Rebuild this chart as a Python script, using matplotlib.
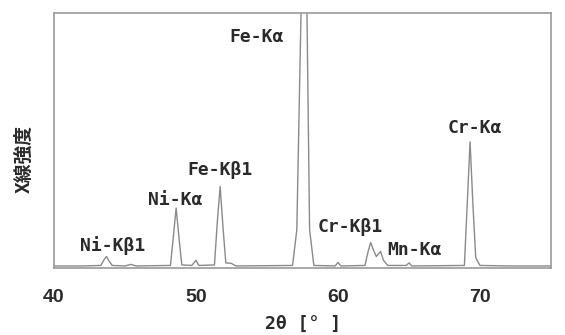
import matplotlib
matplotlib.use("Agg")
import matplotlib.pyplot as plt

plt.rcParams['font.family'] = ['Noto Sans CJK JP', 'DejaVu Sans']

# Spectrum trace: 2θ [°] and relative intensity
two_theta = [40.0, 42.0, 43.3, 43.55, 43.7, 43.85, 44.1, 45.0, 45.4, 45.8, 48.2,
             48.4, 48.6, 48.8, 49.0, 49.7, 50.0, 50.2, 51.3, 51.5, 51.7, 51.9,
             52.1, 52.5, 52.8, 56.8, 57.1, 57.5, 57.75, 58.0, 58.3, 59.8, 60.0,
             60.2, 61.9, 62.1, 62.3, 62.5, 62.7, 62.85, 63.0, 63.2, 63.5, 64.8,
             65.0, 65.2, 68.9, 69.1, 69.3, 69.5, 69.7, 70.0, 72.0, 75.0]
intensity = [0.008, 0.008, 0.010, 0.035, 0.045, 0.030, 0.010, 0.008, 0.014, 0.008, 0.010,
             0.120, 0.235, 0.120, 0.012, 0.010, 0.030, 0.010, 0.012, 0.180, 0.320, 0.160,
             0.020, 0.018, 0.008, 0.010, 0.150, 1.300, 1.300, 0.150, 0.010, 0.008, 0.022,
             0.008, 0.010, 0.060, 0.100, 0.070, 0.045, 0.055, 0.065, 0.030, 0.010, 0.010,
             0.020, 0.008, 0.010, 0.250, 0.495, 0.250, 0.040, 0.010, 0.008, 0.008]

peak_labels = ["Fe-Kα", "Ni-Kβ1", "Ni-Kα", "Fe-Kβ1", "Cr-Kβ1", "Mn-Kα", "Cr-Kα"]
label_x = [54.3, 44.1, 48.5, 51.7, 60.85, 65.35, 69.65]
label_y = [0.906, 0.09, 0.267, 0.384, 0.16, 0.07, 0.549]

x_ticks = [40, 50, 60, 70]

fig = plt.figure(figsize=(5.65, 3.35), dpi=100)
ax = fig.add_axes([54/565, 1-268/335, 497/565, 255/335])

ax.plot(two_theta, intensity, color='#8a8a8a', lw=1.0)
ax.set_xlim(40, 75)
ax.set_ylim(0, 1)

for lab, lx, ly in zip(peak_labels, label_x, label_y):
    ax.text(lx, ly, lab, ha='center', va='center', fontsize=13, fontweight='bold',
            family=['DejaVu Sans Mono'], color='#2a2a2a')

ax.set_xticks(x_ticks)
ax.set_xticklabels([str(t) for t in x_ticks], family=['Liberation Sans'], fontsize=14,
                   fontweight='bold', color='#2a2a2a')
ax.tick_params(axis='x', length=0, pad=15)
ax.set_yticks([])
for s in ax.spines.values():
    s.set_color('#9a9a9a')
    s.set_linewidth(1.2)

fig.text(303/565, 1-324/335, "2θ [° ]", ha='center', va='center', fontsize=13,
         fontweight='bold', family=['DejaVu Sans Mono'], color='#2a2a2a')
fig.text(24/565, 1-159/335, "X線強度", rotation=90, ha='center', va='center', fontsize=13.5,
         fontweight='bold', color='#2a2a2a')

fig.savefig("out.png", dpi=100, facecolor='white')
